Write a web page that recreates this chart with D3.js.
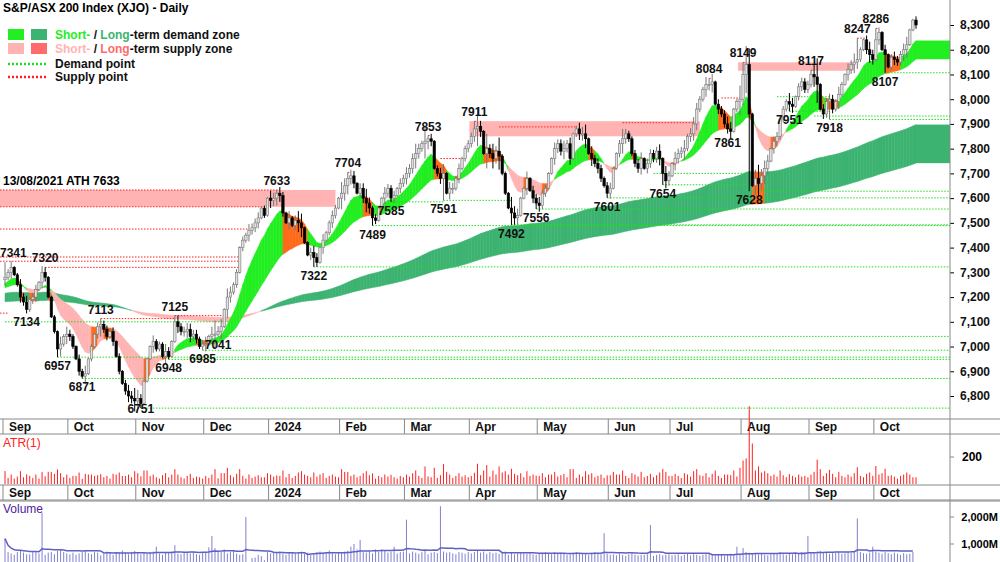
<!DOCTYPE html>
<html><head><meta charset="utf-8">
<script src="https://cdn.jsdelivr.net/npm/d3@7"></script>
<style>body{margin:0;background:#fff}text{font-family:"Liberation Sans",Arial,sans-serif}</style>
</head><body><svg id="c" width="1000" height="562"></svg>
<script>
// ---------- DATA ----------
const monthNames=["Sep","Oct","Nov","Dec","2024","Feb","Mar","Apr","May","Jun","Jul","Aug","Sep","Oct"];
const closes=[
7280,7300,7320,7290,7250,7200,7180,7150,7190,7200,7230,7260,7300,7280,7200,7120,7060,6990,7010,7040,7050,
7040,7000,6950,6900,6880,6890,6950,7000,7050,7080,7090,7070,7040,7060,7020,6960,6900,6850,6820,6800,6790,6780,
6790,6770,6860,6950,7000,7020,6990,7010,6960,6980,6960,7020,7100,7080,7060,7060,7070,7040,7050,7030,7000,7010,7010,
7040,7050,7050,7060,7080,7150,7200,7220,7250,7300,7400,7430,7450,7470,7480,7500,7520,7560,7530,7600,7590,
7600,7620,7610,7540,7500,7520,7490,7510,7500,7480,7420,7370,7380,7360,7340,7400,7430,7460,7500,7530,7560,7600,7620,
7650,7680,7690,7660,7620,7640,7600,7580,7560,7520,7510,7560,7600,7620,7640,7600,7610,7640,7660,7680,7700,
7720,7760,7780,7800,7820,7830,7840,7830,7720,7700,7680,7700,7620,7640,7640,7680,7720,7760,7800,7820,7850,
7880,7890,7870,7780,7800,7780,7760,7790,7770,7700,7620,7560,7540,7520,7530,7600,7640,7680,7630,7600,7580,7570,
7620,7640,7700,7760,7800,7820,7790,7800,7820,7760,7860,7880,7860,7860,7840,7780,7760,7740,7720,7680,7650,7620,7640,
7720,7780,7820,7840,7860,7840,7780,7740,7720,7760,7720,7740,7780,7760,7790,7760,7700,7670,7690,7740,
7760,7780,7790,7800,7850,7860,7900,7960,8000,8040,8060,8060,8070,7980,7960,7940,7900,7880,7870,7960,7990,8000,8100,
8140,7940,7650,7680,7660,7690,7720,7750,7800,7830,7850,7920,7960,7990,7980,7970,8010,8050,8070,8040,8060,8100,
8090,8060,7960,7940,7990,8000,7960,7990,8020,8060,8100,8120,8140,8150,8160,8200,8240,8200,8180,8160,8240,
8270,8200,8180,8130,8170,8160,8150,8180,8200,8220,8280,8320,8300];
const atr=[
60,45,70,40,55,95,50,80,60,45,70,40,90,55,65,40,75,55,80,50,70,
45,60,50,85,40,75,55,70,45,65,90,50,60,40,75,55,85,45,60,70,50,95,
80,55,100,60,45,70,50,40,65,80,55,60,45,70,50,40,60,75,45,55,50,40,
60,45,70,110,55,80,60,120,65,50,75,55,60,40,70,45,55,65,40,50,60,
70,55,80,60,100,50,75,45,60,85,95,70,60,50,75,55,65,80,45,60,70,55,50,
110,90,100,60,70,45,60,80,95,65,55,40,60,45,70,55,65,50,40,60,50,
70,55,80,100,60,45,130,75,50,60,45,65,95,50,70,45,60,80,55,65,50,
60,75,150,65,90,140,55,100,70,130,85,95,60,110,75,65,80,50,95,60,70,55,
60,80,50,70,45,90,55,65,75,50,110,60,45,70,55,95,65,80,50,60,70,45,60,
65,90,55,70,100,60,45,80,70,55,90,40,60,75,50,65,85,70,90,60,
50,75,60,45,80,70,55,95,110,65,60,80,50,75,90,60,45,70,80,65,100,55,120,
150,190,330,170,100,130,85,95,80,60,70,55,100,65,50,80,60,45,70,55,60,50,
65,90,180,70,60,80,55,75,50,90,60,45,70,55,80,65,60,50,75,85,60,
95,70,55,60,50,65,55,40,60,70,85,55,45];
const volume=[
1200,700,650,600,700,750,680,620,620,700,720,650,2150,600,680,700,620,750,800,700,650,
620,680,600,650,700,750,660,620,700,680,580,640,720,680,600,650,700,760,680,620,700,740,
700,620,680,640,700,720,900,650,600,680,700,720,960,640,620,700,680,650,700,620,600,680,
700,880,1300,850,760,700,800,650,700,760,640,600,620,2000,300,480,500,600,550,400,700,
650,700,680,720,640,600,700,680,650,700,720,640,680,600,650,700,720,680,700,760,650,620,700,
680,720,750,900,1000,800,1150,700,680,720,650,800,700,800,750,680,720,900,650,700,720,
1900,650,720,680,640,700,760,620,680,700,660,2400,720,680,700,650,620,700,680,640,700,
650,700,750,680,720,640,700,660,680,640,700,720,600,680,620,650,700,660,640,680,620,600,
650,680,700,640,620,700,660,680,640,600,620,680,700,650,620,640,600,680,700,660,620,1400,640,
600,620,580,640,600,560,620,650,600,580,600,600,620,1700,560,600,620,580,600,620,
580,600,620,560,600,640,580,620,600,560,600,620,640,600,580,620,600,560,620,640,600,900,620,
850,700,680,640,660,620,640,600,580,620,640,660,700,620,600,640,620,660,640,700,700,1300,
660,700,720,740,680,700,640,660,680,700,640,660,700,680,720,1950,700,660,640,680,900,
720,680,640,700,660,620,680,640,600,660,620,640,700];
const pivots=[[0,7341,"H"],[7,7134,"L"],[13,7320,"H"],[17,6957,"L"],[25,6871,"L"],[31,7113,"H"],[44,6751,"L"],
[53,6948,"L"],[55,7125,"H"],[64,6985,"L"],[69,7041,"L"],[88,7633,"H"],[100,7322,"L"],[111,7704,"H"],[119,7489,"L"],
[125,7585,"L"],[137,7853,"H"],[142,7591,"L"],[152,7911,"H"],[164,7492,"L"],[172,7556,"L"],[195,7601,"L"],[213,7654,"L"],
[228,8084,"H"],[234,7861,"L"],[239,8149,"H"],[241,7628,"L"],[254,7951,"L"],[261,8117,"H"],[267,7918,"L"],[276,8247,"H"],
[282,8286,"H"],[285,8107,"L"]];
const supplyLines=[[7633,0],[7565,0],[7475,0],[7362,0],[7345,0],[7320,13],[7135,0],[7113,31],[7125,55],[7704,111],[7853,137],[7760,141],[7911,152],[7888,160],[7905,200],[8084,228],[8005,232],[8149,239],[8117,261],[8247,276],[8286,282]];
const demandLines=[[7100,0,73],[6957,17,null],[6871,25,null],[6751,44,null],[6948,53,null],[6985,64,null],[7041,69,null],[7322,100,null],
[7489,119,null],[7585,125,142],[7591,142,164],[7492,164,null],[7556,172,null],[7601,195,null],[7654,213,241],[7700,210,241],[7628,241,null],
[7951,254,267],[7918,267,null],[7932,262,null],[8010,250,267],[8107,285,null]];
const supplyZones=[[7633,7565,0,107],[7911,7850,152,225],[8149,8115,239,275]];
const emaSeeds={sf:7250,ss:7235,lf:7215,ls:7180};
const legendItems=[["Short-","#22ee22","#3cb371","Long","-term demand zone"],["Short-","#ffb3b3","#ff6b6b","Long","-term supply zone"]];

// ---------- BUILD ----------
const N=closes.length;
const dates=[];{let d=new Date(2023,8,1);while(dates.length<N){if(d.getDay()%6!==0)dates.push(new Date(d));d.setDate(d.getDate()+1);}}
const bars=closes.map((c,i)=>{const o=i?closes[i-1]:7270;const r=atr[i]||50;const b=Math.abs(c-o);const w=Math.max(5,(r-b)/2);
 return {i,o,c,h:Math.max(o,c)+w,l:Math.min(o,c)-w};});
pivots.forEach(([i,v,t])=>{if(t==="H")bars[i].h=v;else bars[i].l=v;});
function ema(p,seed){const k=2/(p+1);let e=seed;return closes.map(c=>e=e+k*(c-e));}
const sf=ema(10,emaSeeds.sf),ss=ema(30,emaSeeds.ss),lf=ema(150,emaSeeds.lf),ls=ema(260,emaSeeds.ls);

const svg=d3.select("#c");
const X0=950;
const x=d3.scaleLinear().domain([0,N-1]).range([5,916]);
const y=d3.scaleLinear().domain([6800,8300]).range([396,25]);
const main=svg.append("g");
main.append("clipPath").attr("id","cp").append("rect").attr("width",X0).attr("height",418);
const g=main.append("g").attr("clip-path","url(#cp)");

function band(f,s,up,down){
 for(let i=0;i<N-1;i++){
  const hi=Math.max(f[i],s[i]),lo=Math.min(f[i],s[i]);
  const inside=closes[i]<=hi&&closes[i]>=lo;
  const col=inside?"#ff6a1a":(f[i]>=s[i]?up:down);
  g.append("path").attr("fill",col).attr("stroke",col).attr("stroke-width",0.5)
   .attr("d",`M${x(i)},${y(f[i])}L${x(i+1)},${y(f[i+1])}L${x(i+1)},${y(s[i+1])}L${x(i)},${y(s[i])}Z`);
 }
 const L=N-1;
 g.append("rect").attr("x",x(L)).attr("width",X0-x(L)).attr("y",y(Math.max(f[L],s[L]))).attr("height",Math.abs(y(f[L])-y(s[L]))).attr("fill",f[L]>=s[L]?up:down);
}
supplyZones.forEach(([t,b,s,e])=>g.append("rect").attr("x",x(s)-5).attr("width",x(e)-x(s)+5).attr("y",y(t)).attr("height",y(b)-y(t)).attr("fill","#ffb3b3"));
band(lf,ls,"#3cb371","#ffb3b3");
band(sf,ss,"#22ee22","#ffb3b3");

supplyLines.forEach(([v,s])=>{let e=null;for(let j=s+1;j<N;j++){if(bars[j].h>v+1){e=j;break;}}
 g.append("line").attr("x1",s===0?0:x(s)).attr("x2",e===null?X0:x(e)).attr("y1",y(v)).attr("y2",y(v)).attr("stroke","#ff2020").attr("stroke-width",1).attr("stroke-dasharray","1.5,1.5");});
demandLines.forEach(([v,s,e])=>{
 g.append("line").attr("x1",x(s)).attr("x2",e===null?X0:x(e)).attr("y1",y(v)).attr("y2",y(v)).attr("stroke","#22dd22").attr("stroke-width",1).attr("stroke-dasharray","1.5,1.5");});

bars.forEach(b=>{const up=b.c>=b.o;
 g.append("line").attr("x1",x(b.i)).attr("x2",x(b.i)).attr("y1",y(b.h)).attr("y2",y(b.l)).attr("stroke",up?"#777":"#000");
 g.append("rect").attr("x",x(b.i)-1.2).attr("width",2.4).attr("y",y(Math.max(b.o,b.c))).attr("height",Math.max(1,Math.abs(y(b.o)-y(b.c))))
  .attr("fill",up?"#e0e0e0":"#000").attr("stroke",up?"#777":"#000").attr("stroke-width",0.6);});

pivots.forEach(([i,v,t])=>main.append("text").attr("x",i===0?0:x(i)).attr("y",t==="H"?y(v)-5:Math.min(y(v)+13,413)).attr("text-anchor",i===0?"start":"middle")
 .attr("font-size",12).attr("font-weight","bold").attr("fill","#111").text(v));
main.append("text").attr("x",3).attr("y",y(7633)-5).attr("font-size",12).attr("font-weight","bold").text("13/08/2021 ATH 7633");

const ya=d3.axisRight(y).tickValues(d3.range(6800,8301,100)).tickSize(4).tickFormat(d3.format(","));
const ag=svg.append("g").attr("transform",`translate(${X0},0)`).call(ya);
ag.select(".domain").remove();
ag.selectAll("text").attr("x",10).attr("font-size",12).attr("font-weight","bold").attr("fill","#111");
svg.append("line").attr("x1",X0).attr("x2",X0).attr("y1",0).attr("y2",562).attr("stroke","#888");

const monthStarts=[];dates.forEach((d,i)=>{if(i===0||d.getMonth()!==dates[i-1].getMonth())monthStarts.push(i);});
function monthAxis(top){
 svg.append("line").attr("x1",0).attr("x2",1000).attr("y1",top).attr("y2",top).attr("stroke","#888");
 svg.append("line").attr("x1",0).attr("x2",1000).attr("y1",top+15).attr("y2",top+15).attr("stroke","#888");
 monthStarts.forEach((i,k)=>{const xx=k===0?3:x(i)-2;
  svg.append("line").attr("x1",xx).attr("x2",xx).attr("y1",top).attr("y2",top+15).attr("stroke","#888");
  svg.append("text").attr("x",xx+6).attr("y",top+12).attr("font-size",12).attr("font-weight","bold").attr("fill","#111").text(monthNames[k]);});
}
monthAxis(419);monthAxis(485);

const ya2=d3.scaleLinear().domain([0,200]).range([484,457]);
bars.forEach(b=>svg.append("line").attr("x1",x(b.i)).attr("x2",x(b.i)).attr("y1",ya2(0)).attr("y2",ya2(b.h-b.l)).attr("stroke","#ff2020").attr("stroke-width",1));
svg.append("text").attr("x",3).attr("y",447).attr("font-size",12).attr("fill","#ff2020").text("ATR(1)");
svg.append("line").attr("x1",X0).attr("x2",X0+4).attr("y1",ya2(200)).attr("y2",ya2(200)).attr("stroke","#888");
svg.append("text").attr("x",X0+12).attr("y",ya2(200)+4).attr("font-size",12).attr("font-weight","bold").text("200");

const yv=d3.scaleLinear().domain([0,2000]).range([571,517]);
svg.append("line").attr("x1",0).attr("x2",1000).attr("y1",501).attr("y2",501).attr("stroke","#888");
volume.forEach((v,i)=>svg.append("line").attr("x1",x(i)).attr("x2",x(i)).attr("y1",562).attr("y2",yv(v)).attr("stroke","#8080d0").attr("stroke-width",1));
const vma=volume.map((v,i)=>d3.mean(volume.slice(Math.max(0,i-19),i+1)));
svg.append("path").attr("d",d3.line().x((d,i)=>x(i)).y(d=>yv(d))(vma)).attr("fill","none").attr("stroke","#6060c0").attr("stroke-width",1.5);
svg.append("text").attr("x",3).attr("y",513).attr("font-size",12).attr("fill","#5020a0").text("Volume");
[[2000,"2,000M"],[1000,"1,000M"]].forEach(([v,t])=>{svg.append("line").attr("x1",X0).attr("x2",X0+4).attr("y1",yv(v)).attr("y2",yv(v)).attr("stroke","#888");
 svg.append("text").attr("x",998).attr("text-anchor","end").attr("y",yv(v)+4).attr("font-size",11).attr("font-weight","bold").text(t);});

svg.append("text").attr("x",3).attr("y",12).attr("font-size",12).attr("font-weight","bold").text("S&P/ASX 200 Index (XJO) - Daily");
legendItems.forEach(([a,c1,c2,b,rest],k)=>{const yy=29+k*14;
 svg.append("rect").attr("x",8).attr("y",yy).attr("width",16).attr("height",11).attr("fill",c1);
 svg.append("rect").attr("x",31).attr("y",yy).attr("width",16).attr("height",11).attr("fill",c2);
 let cx=55;
 [[a,c1],[" / ","#111"],[b,c2],[rest,"#111"]].forEach(([s,c])=>{
  const t=svg.append("text").attr("x",cx).attr("y",yy+10).attr("font-size",12).attr("font-weight","bold").attr("fill",c).attr("xml:space","preserve").style("white-space","pre").text(s);
  cx+=t.node().getComputedTextLength();});});
[["#22dd22","Demand point"],["#ff2020","Supply point"]].forEach(([c,t],k)=>{const yy=64+k*13;
 svg.append("line").attr("x1",8).attr("x2",47).attr("y1",yy).attr("y2",yy).attr("stroke",c).attr("stroke-width",2.5).attr("stroke-dasharray","2,2");
 svg.append("text").attr("x",55).attr("y",yy+4).attr("font-size",12).attr("font-weight","bold").attr("fill","#111").text(t);});
</script></body></html>
